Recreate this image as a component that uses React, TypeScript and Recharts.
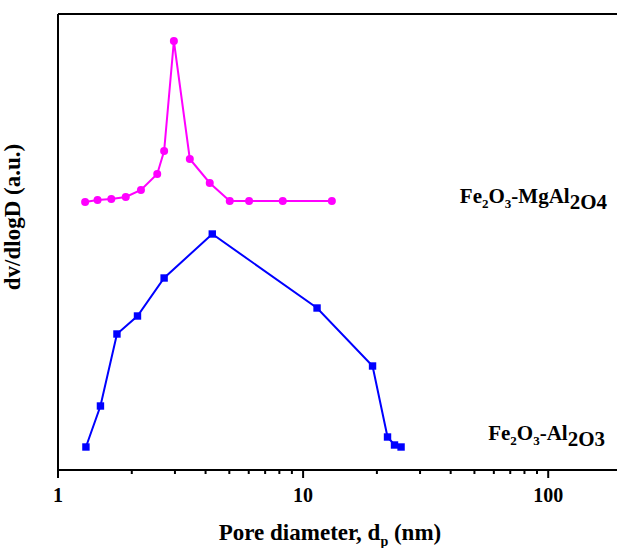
import { LineChart, Line, XAxis, YAxis, ReferenceLine } from "recharts";

// pore size distribution (y in arbitrary units)
const mgAl2O4Diameter = [1.29, 1.45, 1.65, 1.89, 2.18, 2.54, 2.71, 2.97, 3.45, 4.16, 5.02, 6.02, 8.26, 13.1];
const mgAl2O4Value = [268, 270, 271, 273, 280, 296, 319, 429, 311, 287, 269, 269, 269, 269];

const al2O3Diameter = [1.3, 1.49, 1.74, 2.11, 2.71, 4.26, 11.4, 19.2, 22.1, 23.6, 25.1];
const al2O3Value = [23, 64, 136, 154, 192, 236, 162, 104, 33, 25, 23];

const xTicks = [1, 2, 3, 4, 5, 6, 7, 8, 9, 10, 20, 30, 40, 50, 60, 70, 80, 90, 100, 200];
const majorTicks = [1, 10, 100];

const MAGENTA = "#FF00FF";
const BLUE = "#0000FF";
const TXT = { fontFamily: "Liberation Serif, serif", fontWeight: 700, fill: "#000" };

const mgData = mgAl2O4Diameter.map((d, i) => ({ d, v: mgAl2O4Value[i] }));
const alData = al2O3Diameter.map((d, i) => ({ d, v: al2O3Value[i] }));

function LogTick(props: any) {
  const { x, y, payload } = props;
  const major = majorTicks.includes(payload.value);
  return (
    <g>
      <line x1={x} x2={x} y1={y} y2={y + (major ? 8 : 4)} stroke="#000" strokeWidth={2} />
      {major && (
        <text x={x} y={y + 32} textAnchor="middle" style={{ ...TXT, fontSize: 20 }}>
          {payload.value}
        </text>
      )}
    </g>
  );
}

function SquareDot(props: any) {
  const { cx, cy, index } = props;
  return <rect key={`sq-${index}`} x={cx - 3.7} y={cy - 3.7} width={7.4} height={7.4} fill={BLUE} />;
}

export default function App() {
  return (
    <div style={{ position: "absolute", left: 0, top: 0, width: 617, height: 548, overflow: "hidden", background: "#fff" }}>
      <LineChart width={622} height={548} margin={{ top: 14, right: 0, bottom: 0, left: 0 }}>
        <XAxis
          dataKey="d"
          type="number"
          scale="log"
          domain={[1, 200]}
          allowDataOverflow
          ticks={xTicks}
          interval={0}
          tick={<LogTick />}
          tickLine={false}
          tickSize={0}
          tickMargin={0}
          height={78}
          axisLine={{ stroke: "#000", strokeWidth: 2 }}
        />
        <YAxis
          type="number"
          domain={[0, 456]}
          allowDataOverflow
          tick={false}
          tickLine={false}
          width={58}
          axisLine={{ stroke: "#000", strokeWidth: 2 }}
        />
        <ReferenceLine y={456} stroke="#000" strokeWidth={2} />
        <Line
          data={mgData}
          dataKey="v"
          stroke={MAGENTA}
          strokeWidth={2}
          dot={{ r: 4, fill: MAGENTA, stroke: MAGENTA, strokeWidth: 0 }}
          isAnimationActive={false}
        />
        <Line
          data={alData}
          dataKey="v"
          stroke={BLUE}
          strokeWidth={2}
          dot={<SquareDot />}
          isAnimationActive={false}
        />
      </LineChart>
      <svg width={617} height={548} style={{ position: "absolute", left: 0, top: 0, pointerEvents: "none" }}>
        <text transform="translate(20, 217) rotate(-90)" textAnchor="middle" style={{ ...TXT, fontSize: 23 }}>
          dv/dlogD (a.u.)
        </text>
        <text x={330} y={540} textAnchor="middle" style={{ ...TXT, fontSize: 23 }}>
          Pore diameter, d<tspan style={{ fontSize: 14 }} dy={6}>p</tspan>
          <tspan dy={-6}> (nm)</tspan>
        </text>
        <text x={607} y={203} textAnchor="end" style={{ ...TXT, fontSize: 21 }}>
          Fe<tspan style={{ fontSize: 13 }} dy={5}>2</tspan>
          <tspan dy={-5}>O</tspan>
          <tspan style={{ fontSize: 13 }} dy={5}>3</tspan>
          <tspan dy={-5}>-MgAl</tspan>
          <tspan dy={6}>2O4</tspan>
        </text>
        <text x={605} y={440} textAnchor="end" style={{ ...TXT, fontSize: 21 }}>
          Fe<tspan style={{ fontSize: 13 }} dy={5}>2</tspan>
          <tspan dy={-5}>O</tspan>
          <tspan style={{ fontSize: 13 }} dy={5}>3</tspan>
          <tspan dy={-5}>-Al</tspan>
          <tspan dy={6}>2O3</tspan>
        </text>
      </svg>
    </div>
  );
}
